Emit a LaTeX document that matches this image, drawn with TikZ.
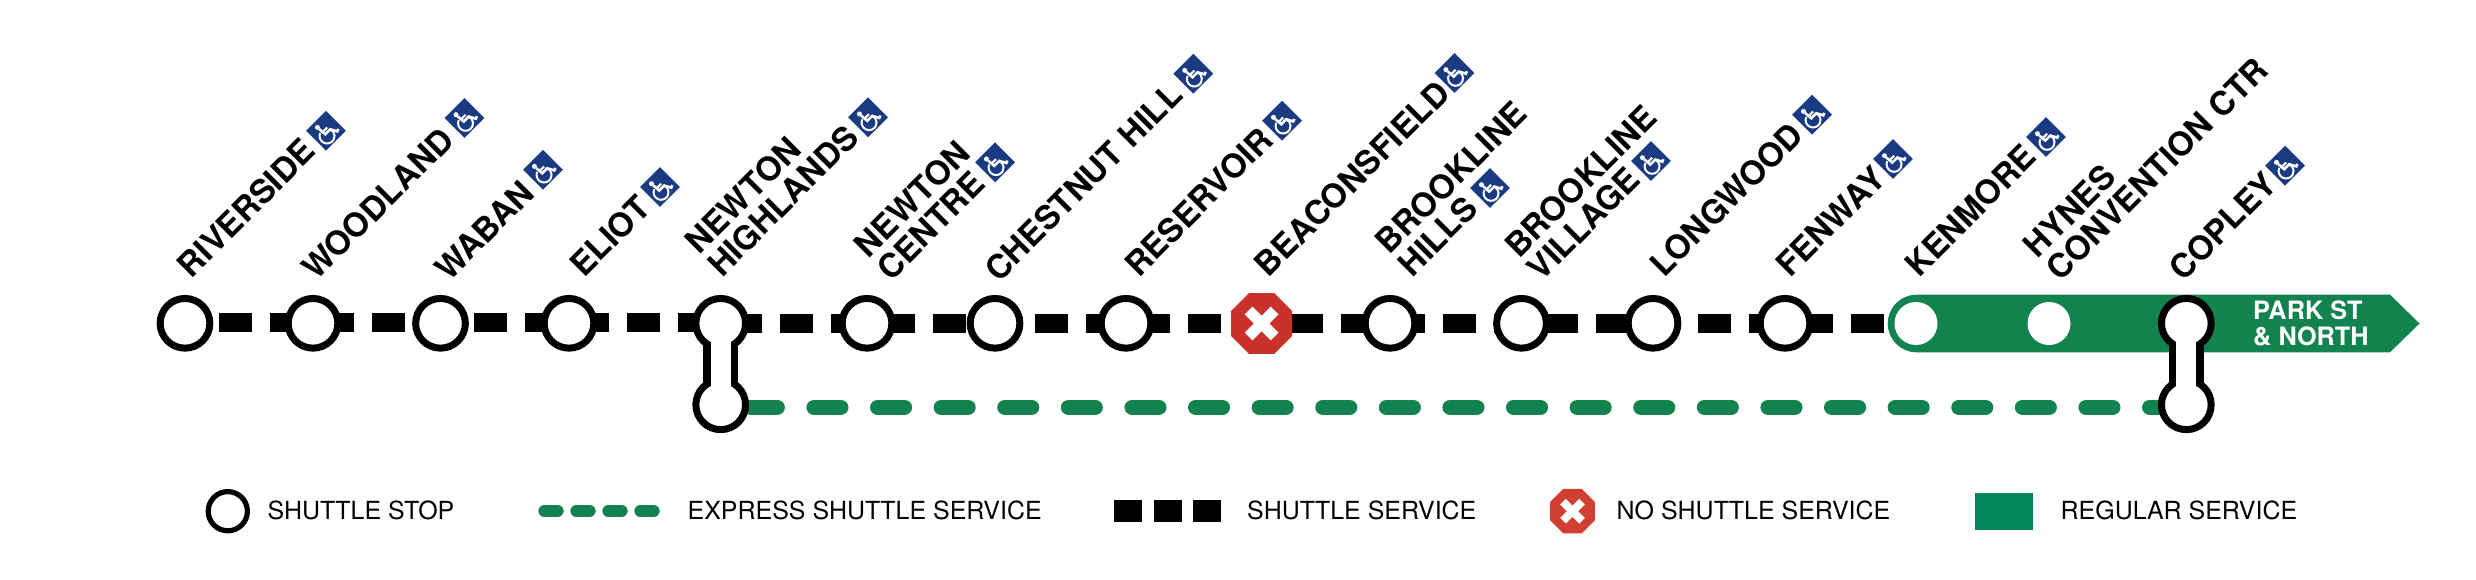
\documentclass[tikz,border=0pt]{standalone}
\usepackage{fontspec}
\setmainfont{TeX Gyre Heros}
\definecolor{mbtagreen}{HTML}{12824E}
\definecolor{reggreen}{HTML}{00875A}
\definecolor{adablue}{HTML}{1A3A82}
\definecolor{stopred}{HTML}{C8322B}
\definecolor{legred}{HTML}{D13F32}
\tikzset{
  stopc/.style={circle,draw=black,fill=white,line width=7pt,minimum size=49.7pt,inner sep=0pt},
  stopw/.style={circle,fill=white,minimum size=43pt,inner sep=0pt},
  legstop/.style={circle,draw=black,fill=white,line width=5.2pt,minimum size=39.2pt,inner sep=0pt},
  shuttle/.style={line width=19.3pt,draw=black,dash pattern=on 33.2pt off 17.8pt},
  express/.style={line width=15.6pt,draw=mbtagreen,line cap=round,dash pattern=on 26.5pt off 37.1pt},
  neckout/.style={line width=34.7pt,draw=black},
  neckin/.style={line width=20pt,draw=white},
  lbl/.style={rotate=45,anchor=south west,inner sep=0pt,align=left,font=\bfseries\fontsize{33}{32}\selectfont},
  legtxt/.style={anchor=base west,inner sep=0pt,font=\fontsize{24.95}{26}\selectfont},
  ada/.pic={
    \begin{scope}[rotate=45]
    \fill[adablue] (-14.1,-14.1) rectangle (14.1,14.1);
    \fill[white] (-3.7,-8.4) circle[radius=2.5pt];
    \draw[white,line width=2.6pt] (-3.7,-6) -- (-3,2) -- (4,2) -- (7.5,8.5) -- (10,7.5);
    \draw[white,line width=2.2pt] (-3.5,-1.5) -- (3,-1.5);
    \draw[white,line width=2pt] (-3,4.5) ++(110:7.5pt) arc[start angle=110,end angle=385,radius=7.5pt];
    \end{scope}
  },
  octo/.pic={
    \fill[pic actions] (-12.6,-30.4) -- (12.6,-30.4) -- (30.4,-12.6) -- (30.4,12.6) -- (12.6,30.4) -- (-12.6,30.4) -- (-30.4,12.6) -- (-30.4,-12.6) -- cycle;
    \draw[white,line width=#1,line join=round] (-13,-13) -- (13,13) (-13,13) -- (13,-13);
  }
}
\begin{document}
\begin{tikzpicture}[x=1pt,y=-1pt]
\useasboundingbox (0,0) rectangle (2476,580);
% line coordinates
\coordinate (shA) at (219,322.5);
\coordinate (shB) at (711.2,322.5);
\coordinate (shC) at (729,323.7);
\coordinate (shD) at (1884,323.7);
\coordinate (exA) at (750.6,407.3);
\coordinate (exB) at (2180,407.3);
\coordinate (nhT) at (720.7,323.3);
\coordinate (nhB) at (720.7,404.8);
\coordinate (cpT) at (2186.3,323.3);
\coordinate (cpB) at (2186.3,404.8);
\draw[shuttle] (shA) -- (shB);
\draw[shuttle] (shC) -- (shD);
\draw[express] (exA) -- (exB);
% regular service bar
\fill[mbtagreen] (1916.5,294.7) -- (2390,294.7) -- (2419.5,323.5) -- (2390,352.3) -- (1916.5,352.3) arc[start angle=270,end angle=90,radius=28.8pt] -- cycle;
\node[stopw] (s14) at (1916,323.5) {};
\node[stopw] (s15) at (2049,323.5) {};
\node[anchor=base west,inner sep=0pt,align=left,text=white,font=\bfseries\fontsize{25.3}{26.3}\selectfont] (park) at (2253,345.7) {PARK ST\\\& NORTH};
% necks
\draw[neckout] (nhT) -- (nhB);
\draw[neckout] (cpT) -- (cpB);
% stops
\node[stopc] (s1) at (185,323.3) {};
\node[stopc] (s2) at (313,323.3) {};
\node[stopc] (s3) at (440.5,323.3) {};
\node[stopc] (s4) at (569,323.3) {};
\node[stopc] (s5) at (nhT) {};
\node[stopc] (s5b) at (nhB) {};
\node[stopc] (s6) at (867,323.3) {};
\node[stopc] (s7) at (995,323.3) {};
\node[stopc] (s8) at (1126,323.3) {};
\pic[fill=stopred] at (1261.6,323.5) {octo=11pt};
\node[stopc] (s10) at (1390,323.3) {};
\node[stopc] (s11) at (1521.5,323.3) {};
\node[stopc] (s12) at (1653,323.3) {};
\node[stopc] (s13) at (1785,323.3) {};
\node[stopc] (s16) at (cpT) {};
\node[stopc] (s16b) at (cpB) {};
\draw[neckin] (s5.center) -- (s5b.center);
\draw[neckin] (s16.center) -- (s16b.center);
% labels
\node[lbl] (l1) at (192,279.7) {RIVERSIDE};
\node[lbl] (l2) at (316.5,282.5) {WOODLAND};
\node[lbl] (l3) at (449,283) {WABAN};
\node[lbl] (l4) at (584.5,279) {ELIOT};
\node[lbl] (l5) at (722.3,279) {NEWTON\\HIGHLANDS};
\node[lbl] (l6) at (891.6,282.6) {NEWTON\\CENTRE};
\node[lbl] (l7) at (999.3,283.6) {CHESTNUT HILL};
\node[lbl] (l8) at (1139.3,279) {RESERVOIR};
\node[lbl] (l9) at (1269,279) {BEACONSFIELD};
\node[lbl] (l10) at (1412.5,279) {BROOKLINE\\HILLS};
\node[lbl] (l11) at (1542,283) {BROOKLINE\\VILLAGE};
\node[lbl] (l12) at (1664.5,279) {LONGWOOD};
\node[lbl] (l13) at (1790,279) {FENWAY};
\node[lbl] (l14) at (1919.5,279) {KENMORE};
\node[lbl] (l15) at (2060.5,283) {HYNES\\CONVENTION CTR};
\node[lbl] (l16) at (2183.6,283) {COPLEY};
% accessibility
\pic at (326,130.7) {ada};
\pic at (464.5,118) {ada};
\pic at (543,169.7) {ada};
\pic at (660,187) {ada};
\pic at (868,117.3) {ada};
\pic at (995,162.3) {ada};
\pic at (1193.3,73.7) {ada};
\pic at (1282,120.7) {ada};
\pic at (1454.5,73) {ada};
\pic at (1490,188) {ada};
\pic at (1651,161) {ada};
\pic at (1812,114.7) {ada};
\pic at (1893,159) {ada};
\pic at (2046,137) {ada};
\pic at (2285,165.7) {ada};
% legend
\node[legstop] (k1) at (227.8,511.2) {};
\node[legtxt] (k1t) at (267.3,519.3) {SHUTTLE STOP};
\coordinate (k2a) at (544.5,511);
\coordinate (k2b) at (654,511);
\draw[mbtagreen,line width=12.3pt,line cap=round,dash pattern=on 13pt off 19pt] (k2a) -- (k2b);
\node[legtxt] (k2t) at (687.5,519.3) {EXPRESS SHUTTLE SERVICE};
\coordinate (k3a) at (1114.4,511);
\coordinate (k3b) at (1221,511);
\draw[black,line width=22pt,dash pattern=on 28pt off 11.3pt] (k3a) -- (k3b);
\node[legtxt] (k3t) at (1247,519.3) {SHUTTLE SERVICE};
\pic[fill=legred,scale=0.733] at (1572.5,511.2) {octo=8pt};
\node[legtxt] (k4t) at (1616.5,519.3) {NO SHUTTLE SERVICE};
\fill[reggreen] (1975,492.7) rectangle (2032.7,529.7);
\node[legtxt] (k5t) at (2060.5,519.3) {REGULAR SERVICE};
\end{tikzpicture}
\end{document}
